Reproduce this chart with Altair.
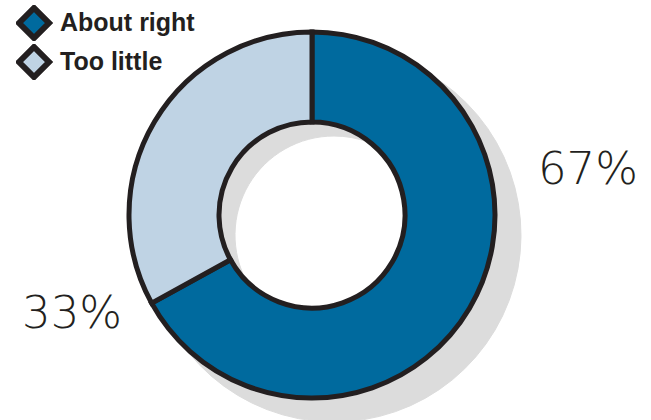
import altair as alt
import pandas as pd

categories = ["About right", "Too little"]
values = [67, 33]
labels = ["67%", "33%"]
orders = [0, 1]

colors = ["#006a9e", "#bfd3e4"]
ink = "#231f20"
shadow_gray = "#dcdcdc"

df = pd.DataFrame({"category": categories, "value": values, "label": labels, "ord": orders})

base = alt.Chart(df)

shadow = base.mark_arc(outerRadius=187, innerRadius=99, color=shadow_gray,
                       stroke=shadow_gray, strokeWidth=1).encode(
    theta=alt.Theta("value:Q", stack=True),
    order=alt.Order("ord:Q"),
    x=alt.value(334), y=alt.value(235),
)

donut = base.mark_arc(outerRadius=183, innerRadius=93, stroke=ink, strokeWidth=5).encode(
    theta=alt.Theta("value:Q", stack=True),
    order=alt.Order("ord:Q"),
    color=alt.Color(
        "category:N",
        scale=alt.Scale(domain=categories, range=colors),
        legend=alt.Legend(
            title=None, orient="none", legendX=16, legendY=5,
            symbolType="diamond", symbolSize=900, symbolStrokeWidth=6,
            symbolStrokeColor=ink, symbolOpacity=1,
            labelFont="Liberation Sans", labelFontWeight="bold", labelFontSize=25,
            labelColor=ink, labelOffset=8, rowPadding=3, clipHeight=36, padding=0,
        ),
    ),
)


def label_layer(cat, dx, dy):
    return base.transform_window(
        cum="sum(value)", sort=[alt.SortField("ord")]
    ).transform_calculate(
        mid="datum.cum - datum.value / 2"
    ).transform_filter(
        alt.datum.category == cat
    ).mark_text(
        radius=230, font="DejaVu Sans", fontWeight=300, fontSize=45, color=ink,
        dx=dx, dy=dy, align="center", baseline="middle",
    ).encode(
        theta=alt.Theta("mid:Q", stack=None),
        text="label:N",
    )


t1 = label_layer("About right", 78, -162)
t2 = label_layer("Too little", -42, 216)

chart = alt.layer(shadow, donut, t1, t2).properties(
    width=624, height=430,
    padding={"left": 0, "top": 0, "right": 27, "bottom": 0},
    autosize=alt.AutoSizeParams(type="none"),
).configure_view(stroke=None)

chart.save("out.html", embed_options={"renderer": "svg", "actions": False})
